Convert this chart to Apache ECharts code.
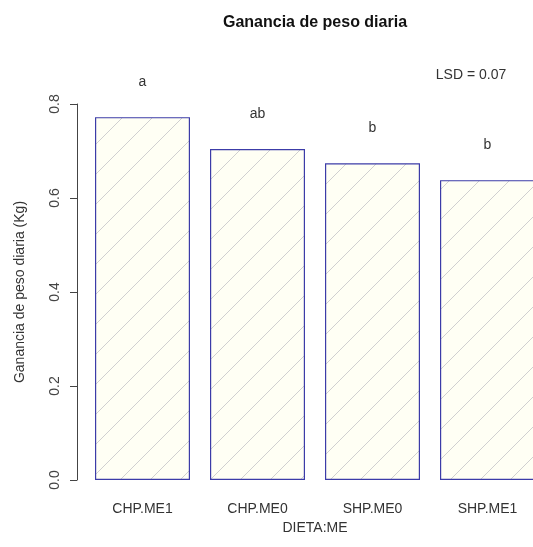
<!DOCTYPE html>
<html>
<head>
<meta charset="utf-8">
<script src="https://cdn.jsdelivr.net/npm/echarts@6/dist/echarts.min.js"></script>
<style>
html,body{margin:0;padding:0;background:#fff;overflow:hidden;width:533px;height:547px;}
#c{width:548px;height:547px;}
</style>
</head>
<body>
<div id="c"></div>
<script>
const categories = ['CHP.ME1', 'CHP.ME0', 'SHP.ME0', 'SHP.ME1'];
const values = [0.772, 0.704, 0.674, 0.638];
const letters = ['a', 'ab', 'b', 'b'];
const yTicks = [0.0, 0.2, 0.4, 0.6, 0.8];

const FONT = "'Liberation Sans', Arial, sans-serif";

// hatch pattern
const pc = document.createElement('canvas');
pc.width = 30; pc.height = 30;
const g = pc.getContext('2d');
g.fillStyle = '#fffff4';
g.fillRect(0, 0, 30, 30);
g.strokeStyle = '#d0d0d0';
g.lineWidth = 1;
g.beginPath();
g.moveTo(-1, 31); g.lineTo(31, -1);
g.moveTo(-16, 16); g.lineTo(16, -16);
g.moveTo(14, 46); g.lineTo(46, 14);
g.stroke();

const chart = echarts.init(document.getElementById('c'), null, {renderer: 'canvas'});
chart.setOption({
  animation: false,
  backgroundColor: '#ffffff',
  grid: {left: 85, top: 104, width: 460, height: 376, containLabel: false},
  graphic: [
    {type: 'text', x: 315, y: 23, style: {text: 'Ganancia de peso diaria', font: 'bold 16px ' + FONT, fill: '#111', textAlign: 'center', textVerticalAlign: 'middle'}},
    {type: 'text', x: 471, y: 75, style: {text: 'LSD = 0.07', font: '14px ' + FONT, fill: '#333', textAlign: 'center', textVerticalAlign: 'middle'}}
  ],
  xAxis: {
    type: 'category',
    data: categories,
    axisLine: {show: false},
    axisTick: {show: false},
    axisLabel: {margin: 22, fontSize: 14, fontFamily: FONT, color: '#333'},
    name: 'DIETA:ME',
    nameLocation: 'middle',
    nameGap: 40,
    nameTextStyle: {fontSize: 14, fontFamily: FONT, color: '#333'}
  },
  yAxis: {
    type: 'value',
    min: 0, max: 0.8, interval: 0.2,
    offset: 8,
    axisLine: {show: true, lineStyle: {color: '#444', width: 1}},
    axisTick: {show: true, length: 7, lineStyle: {color: '#444'}},
    splitLine: {show: false},
    axisLabel: {rotate: 90, margin: 15, fontSize: 14, fontFamily: FONT, color: '#444',
      formatter: function (v) { return v.toFixed(1); }},
    name: 'Ganancia de peso diaria (Kg)',
    nameLocation: 'middle',
    nameRotate: 90,
    nameGap: 50,
    nameTextStyle: {fontSize: 14, fontFamily: FONT, color: '#333'}
  },
  series: [{
    type: 'bar',
    data: values,
    barWidth: 95,
    itemStyle: {color: {image: pc, repeat: 'repeat'}, borderColor: '#3c3ca8', borderWidth: 1.2},
    label: {show: true, position: 'top', distance: 28, fontSize: 14, fontFamily: FONT, color: '#333',
      formatter: function (p) { return letters[p.dataIndex]; }}
  }]
});
</script>
</body>
</html>
